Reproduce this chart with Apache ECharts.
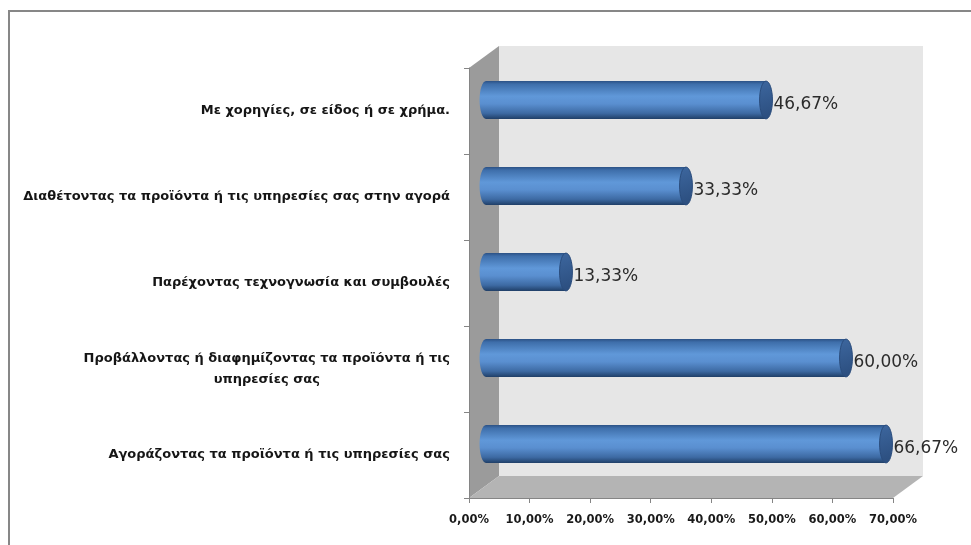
<!DOCTYPE html>
<html>
<head>
<meta charset="utf-8">
<script src="https://cdn.jsdelivr.net/npm/echarts@6/dist/echarts.min.js"></script>
<style>
  html, body { margin: 0; padding: 0; background: #ffffff; }
  #chart { width: 971px; height: 545px; }
</style>
</head>
<body>
<div id="chart"></div>
<script>
// Categories listed bottom to top (category axis starts at the bottom)
const categories = [
  'Αγοράζοντας τα προϊόντα ή τις υπηρεσίες σας',
  'Προβάλλοντας ή διαφημίζοντας τα προϊόντα ή τις\nυπηρεσίες σας',
  'Παρέχοντας τεχνογνωσία και συμβουλές',
  'Διαθέτοντας τα προϊόντα ή τις υπηρεσίες σας στην αγορά',
  'Με χορηγίες, σε είδος ή σε χρήμα.'
];
const percentages = [66.67, 60.00, 13.33, 33.33, 46.67];
const axisMin = 0;
const axisMax = 70;
const axisStep = 10;

// Front face of the plot box and the depth offset of the 3D box
const FRONT = { l: 469, t: 68, r: 893, b: 498 };
const DEPTH = { dx: 30, dy: -22 };
const W = 971, H = 545;

const fmtPct = v => v.toFixed(2).replace('.', ',') + '%';

const chart = echarts.init(document.getElementById('chart'), null, { renderer: 'canvas' });

const barGrad = () => new echarts.graphic.LinearGradient(0, 0, 0, 1, [
  { offset: 0, color: '#2c5286' },
  { offset: 0.08, color: '#3e6eaa' },
  { offset: 0.4, color: '#6098d9' },
  { offset: 0.6, color: '#5a8fd0' },
  { offset: 0.85, color: '#3d6aa3' },
  { offset: 1, color: '#203f68' }
]);
const capGrad = () => new echarts.graphic.LinearGradient(0, 0, 1, 1, [
  { offset: 0, color: '#3d679f' },
  { offset: 1, color: '#2a4c7c' }
]);

function renderCylinder(params, api) {
  const v = api.value(0);
  const cat = api.value(1);
  const s = api.coord([0, cat]);
  const e = api.coord([v, cat]);
  const h = api.size([0, 1])[1] * 0.44;
  const rx = h * 0.17;
  return {
    type: 'group',
    children: [
      { type: 'ellipse', shape: { cx: s[0], cy: s[1], rx: rx, ry: h / 2 }, style: { fill: barGrad() } },
      { type: 'rect', shape: { x: s[0], y: s[1] - h / 2, width: e[0] - s[0], height: h }, style: { fill: barGrad() } },
      { type: 'ellipse', shape: { cx: e[0], cy: e[1], rx: rx, ry: h / 2 },
        style: { fill: capGrad(), stroke: '#2a4c7c', lineWidth: 1 } },
      { type: 'text', style: {
          text: fmtPct(v), x: e[0] + rx + 1, y: e[1] + 5,
          verticalAlign: 'middle', align: 'left',
          fill: '#2b2b2b', font: '17px "DejaVu Sans"'
        } }
    ]
  };
}

const back = { l: FRONT.l + DEPTH.dx, t: FRONT.t + DEPTH.dy, r: FRONT.r + DEPTH.dx, b: FRONT.b + DEPTH.dy };

const option = {
  backgroundColor: '#ffffff',
  animation: false,
  graphic: [
    { type: 'rect', z: -20, shape: { x: 9, y: 11, width: W + 20, height: H + 20 },
      style: { fill: null, stroke: '#878787', lineWidth: 2 } },
    { type: 'rect', z: -10, shape: { x: back.l, y: back.t, width: back.r - back.l, height: back.b - back.t },
      style: { fill: '#e6e6e6' } },
    { type: 'polygon', z: -9, shape: { points: [[FRONT.l, FRONT.t], [back.l, back.t], [back.l, back.b], [FRONT.l, FRONT.b]] },
      style: { fill: '#9b9b9b' } },
    { type: 'polygon', z: -9, shape: { points: [[FRONT.l, FRONT.b], [back.l, back.b], [back.r, back.b], [FRONT.r, FRONT.b]] },
      style: { fill: '#b4b4b4' } }
  ],
  grid: [
    { left: FRONT.l, top: FRONT.t, right: W - FRONT.r, bottom: H - FRONT.b, containLabel: false },
    { left: FRONT.l + DEPTH.dx / 2 + 2, top: FRONT.t + DEPTH.dy / 2, right: W - FRONT.r - DEPTH.dx / 2 + 2,
      bottom: H - FRONT.b - DEPTH.dy / 2, containLabel: false }
  ],
  xAxis: [
    {
      type: 'value', gridIndex: 0, min: axisMin, max: axisMax, interval: axisStep,
      axisLine: { show: true, lineStyle: { color: '#858585', width: 1 } },
      axisTick: { show: true, length: 5, lineStyle: { color: '#858585' } },
      splitLine: { show: false },
      axisLabel: {
        formatter: v => fmtPct(v), margin: 16,
        color: '#1a1a1a', fontFamily: 'DejaVu Sans', fontWeight: 'bold', fontSize: 11.5
      }
    },
    { type: 'value', gridIndex: 1, min: axisMin, max: axisMax, show: false }
  ],
  yAxis: [
    {
      type: 'category', gridIndex: 0, data: categories,
      axisLine: { show: true, lineStyle: { color: '#858585', width: 1 } },
      axisTick: { show: true, length: 5, lineStyle: { color: '#858585' } },
      axisLabel: {
        margin: 19,
        formatter: t => t.split('\n').map(line => '{c|' + line + '}').join('\n'),
        rich: {
          c: { align: 'center', color: '#151515', fontFamily: 'DejaVu Sans', fontWeight: 'bold',
               fontSize: 13, lineHeight: 21 }
        }
      }
    },
    { type: 'category', gridIndex: 1, data: categories, show: false }
  ],
  series: [
    {
      type: 'custom',
      xAxisIndex: 1, yAxisIndex: 1,
      data: percentages.map((v, i) => [v, i]),
      encode: { x: 0, y: 1 },
      renderItem: renderCylinder,
      z: 5
    }
  ]
};

chart.setOption(option);
</script>
</body>
</html>
